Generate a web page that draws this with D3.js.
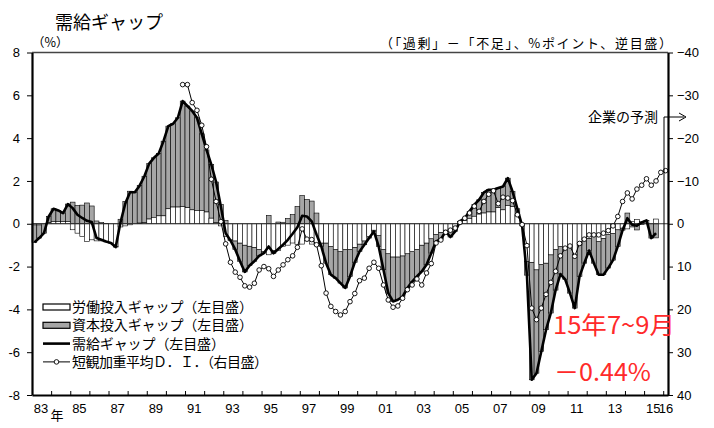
<!DOCTYPE html>
<html lang="ja">
  <head>
    <meta charset="utf-8">
    <title>需給ギャップ</title>
    <style>
      body { margin: 0; background: #fff; }
      svg { display: block; }
      .num { font-family: "Liberation Sans", Arial, sans-serif; font-size: 13px; }
      .jp { font-family: "Noto Sans CJK JP", sans-serif; }
    </style>
  </head>
  <body>
    <div class="graph"></div>

    <script src="https://cdn.jsdelivr.net/npm/d3@7"></script>
    <script>
      // quarterly, 1983 Q1 .. 2015 Q3 (index 0 = 1983 Q1)
      var outputGap = [
        -0.87, -0.67, -0.44, 0.34, 0.70, 0.62, 0.50, 0.92, 0.73, 0.42,
        0.27, 0.14, 0.08, -0.67, -0.75, -0.83, -0.90, -1.09, 0.06, 0.94,
        1.47, 1.47, 1.78, 2.22, 2.81, 3.08, 3.28, 3.86, 4.56, 4.67,
        4.95, 5.73, 5.50, 5.27, 4.95, 4.20, 3.45, 2.76, 1.95, 0.80,
        -0.44, -0.78, -1.20, -1.75, -2.25, -1.95, -1.75, -1.50, -1.37, -1.06,
        -1.38, -1.18, -0.98, -0.75, -0.47, -0.16, 0.37, 0.34, 0.11, -0.50,
        -1.06, -1.84, -2.38, -2.54, -2.77, -3.00, -2.46, -1.80, -1.30, -0.98,
        -0.67, -0.36, -1.06, -2.15, -3.24, -3.63, -3.55, -3.40, -3.00, -2.70,
        -2.46, -2.23, -1.92, -1.37, -0.83, -0.72, -0.36, -0.62, -0.36, 0.11,
        0.26, 0.58, 0.89, 1.12, 1.46, 1.59, 1.59, 1.67, 1.74, 2.13,
        1.50, 0.70, -0.10, -2.40, -7.29, -6.98, -5.97, -4.95, -4.17, -3.10,
        -2.35, -2.60, -3.24, -3.94, -2.46, -1.84, -1.25, -1.84, -2.38, -2.38,
        -2.07, -1.70, -1.06, -0.30, 0.26, -0.05, -0.09, 0.06, 0.16, -0.67,
        -0.44
      ];

      var laborGap = [
        -0.05, -0.05, 0.00, 0.05, 0.10, 0.10, 0.10, 0.10, -0.28, -0.44,
        -0.60, -0.83, -0.75, -0.80, -0.80, -0.85, -0.90, -1.05, -0.15, -0.10,
        -0.05, 0.00, 0.03, 0.05, 0.22, 0.30, 0.37, 0.37, 0.70, 0.78,
        0.78, 0.80, 0.75, 0.65, 0.62, 0.62, 0.55, 0.26, 0.05, -0.10,
        -0.60, -0.75, -0.80, -0.90, -1.00, -1.05, -1.10, -1.20, -1.30, -1.45,
        -1.25, -1.26, -1.05, -1.00, -0.90, -0.97, -0.95, -0.80, -0.95, -1.00,
        -0.90, -0.90, -1.06, -1.20, -1.30, -1.20, -1.20, -1.10, -0.95, -0.80,
        -0.60, -0.30, -0.55, -1.20, -1.40, -1.55, -1.55, -1.50, -1.40, -1.30,
        -1.20, -1.00, -0.90, -0.70, -0.50, -0.40, -0.30, -0.30, -0.15, 0.00,
        0.15, 0.25, 0.35, 0.45, 0.50, 0.55, 0.55, 0.75, 0.65, 0.85,
        0.80, 0.40, -0.10, -1.76, -1.80, -2.15, -1.90, -1.84, -1.45, -1.20,
        -1.06, -1.10, -1.06, -1.45, -1.00, -0.75, -0.68, -0.60, -0.83, -0.68,
        -0.50, -0.45, -0.28, -0.20, -0.24, 0.10, 0.20, 0.10, 0.15, 0.00,
        0.22
      ];

      var capitalGap = [
        -0.82, -0.62, -0.44, 0.29, 0.60, 0.52, 0.40, 0.82, 1.01, 0.86,
        0.87, 0.97, 0.83, 0.13, 0.05, 0.02, 0.00, -0.04, 0.21, 1.04,
        1.52, 1.47, 1.75, 2.17, 2.59, 2.78, 2.91, 3.49, 3.86, 3.89,
        4.17, 4.93, 4.75, 4.62, 4.33, 3.58, 2.90, 2.50, 1.90, 0.90,
        0.16, -0.03, -0.40, -0.85, -1.25, -0.90, -0.65, -0.30, -0.07, 0.39,
        -0.13, 0.08, 0.07, 0.25, 0.43, 0.81, 1.32, 1.14, 1.06, 0.50,
        -0.16, -0.94, -1.32, -1.34, -1.47, -1.80, -1.26, -0.70, -0.35, -0.18,
        -0.07, -0.06, -0.51, -0.95, -1.84, -2.08, -2.00, -1.90, -1.60, -1.40,
        -1.26, -1.23, -1.02, -0.67, -0.33, -0.32, -0.06, -0.32, -0.21, 0.11,
        0.11, 0.33, 0.54, 0.67, 0.96, 1.04, 1.04, 0.92, 1.09, 1.28,
        0.70, 0.30, 0.00, -0.64, -5.49, -4.83, -4.07, -3.11, -2.72, -1.90,
        -1.29, -1.50, -2.18, -2.49, -1.46, -1.09, -0.57, -1.24, -1.55, -1.70,
        -1.57, -1.25, -0.78, -0.10, 0.50, -0.15, -0.29, -0.04, 0.01, -0.67,
        -0.66
      ];

      // tankan weighted DI (excess - shortage), starts 1990 Q4, last point = firms' forecast
      var diStart = 31;
      var tankanDI = [
        -32.5, -32.5, -28.3, -26.5, -23.0, -18.0, -10.4, -5.2, -0.5, 4.7,
        9.0, 11.3, 12.5, 14.5, 14.8, 13.9, 10.8, 10.0, 10.5, 12.3,
        10.8, 9.6, 8.4, 7.5, 5.5, 1.2, 3.6, 3.7, 4.9, 9.8,
        16.2, 19.3, 20.5, 21.3, 20.5, 18.2, 16.3, 13.3, 12.7, 10.4,
        9.0, 10.4, 14.3, 17.8, 19.5, 19.2, 17.4, 15.4, 14.3, 12.9,
        14.3, 11.5, 9.3, 4.5, 3.8, 2.0, 1.5, 1.0, -0.3, -1.3,
        -2.5, -4.1, -2.9, -5.2, -6.9, -7.7, -4.7, -6.2, -6.0, -5.4,
        -2.1, 0.2, 5.1, 19.7, 22.4, 19.7, 16.5, 13.7, 11.1, 7.5,
        5.7, 5.2, 7.6, 4.6, 3.6, 2.6, 2.6, 2.6, 2.2, 1.6,
        0.5, -1.7, -5.2, -7.2, -5.8, -8.1, -9.0, -10.5, -9.0, -10.0,
        -12.0, -12.4
      ];

      var yearLabels = ['83', '85', '87', '89', '91', '93', '95', '97', '99', '01',
                        '03', '05', '07', '09', '11', '13', '15', '16'];
      var labelYears = [1983, 1985, 1987, 1989, 1991, 1993, 1995, 1997, 1999, 2001,
                        2003, 2005, 2007, 2009, 2011, 2013, 2015, 2016];
      var leftTicks = [-8, -6, -4, -2, 0, 2, 4, 6, 8];
      var rightTicks = [-40, -30, -20, -10, 0, 10, 20, 30, 40];

      var width = 714, height = 428;
      var plotLeft = 32, plotRight = 668, plotTop = 52.5, plotBottom = 395;
      var nQuarters = 133;

      var svg = d3.select('.graph').append('svg')
                  .attr('width', width)
                  .attr('height', height);

      var x = d3.scaleLinear().domain([0, nQuarters]).range([plotLeft, plotRight]);
      var yL = d3.scaleLinear().domain([-8, 8]).range([plotBottom, plotTop]);
      var yR = d3.scaleLinear().domain([40, -40]).range([plotBottom, plotTop]);
      var qw = x(1) - x(0);

      // stacked bars: labor next to zero, capital stacked outward if same sign
      var bars = outputGap.map(function(g, i) {
        var l = laborGap[i], c = capitalGap[i];
        var c0 = (l >= 0) === (c >= 0) ? l : 0;
        return { i: i, l0: 0, l1: l, c0: c0, c1: c0 + c };
      });

      var gBars = svg.append('g');
      gBars.selectAll('rect.cap')
           .data(bars)
           .enter()
           .append('rect')
           .attr('class', 'cap')
           .attr('x', function(d) { return x(d.i); })
           .attr('width', qw)
           .attr('y', function(d) { return yL(Math.max(d.c0, d.c1)); })
           .attr('height', function(d) { return Math.abs(yL(d.c0) - yL(d.c1)); })
           .attr('fill', '#a6a6a6')
           .attr('stroke', '#000')
           .attr('stroke-width', 0.6);
      gBars.selectAll('rect.lab')
           .data(bars)
           .enter()
           .append('rect')
           .attr('class', 'lab')
           .attr('x', function(d) { return x(d.i); })
           .attr('width', qw)
           .attr('y', function(d) { return yL(Math.max(d.l0, d.l1)); })
           .attr('height', function(d) { return Math.abs(yL(d.l0) - yL(d.l1)); })
           .attr('fill', '#fff')
           .attr('stroke', '#000')
           .attr('stroke-width', 0.6);

      // zero line
      svg.append('line')
         .attr('x1', plotLeft).attr('x2', plotRight)
         .attr('y1', yL(0)).attr('y2', yL(0))
         .attr('stroke', '#333').attr('stroke-width', 1);

      // output gap line
      var gapLine = d3.line()
                      .x(function(d, i) { return x(i + 0.5); })
                      .y(function(d) { return yL(d); });
      svg.append('path')
         .datum(outputGap)
         .attr('d', gapLine)
         .attr('fill', 'none')
         .attr('stroke', '#000')
         .attr('stroke-width', 2.6)
         .attr('stroke-linejoin', 'round');

      // tankan DI line with circles (right, reversed scale)
      var diLine = d3.line()
                     .x(function(d, i) { return x(diStart + i + 0.5); })
                     .y(function(d) { return yR(d); });
      svg.append('path')
         .datum(tankanDI)
         .attr('d', diLine)
         .attr('fill', 'none')
         .attr('stroke', '#000')
         .attr('stroke-width', 1);
      svg.append('g').selectAll('circle')
         .data(tankanDI)
         .enter()
         .append('circle')
         .attr('cx', function(d, i) { return x(diStart + i + 0.5); })
         .attr('cy', function(d) { return yR(d); })
         .attr('r', 2.3)
         .attr('fill', '#fff')
         .attr('stroke', '#000')
         .attr('stroke-width', 0.9);

      // frame top
      svg.append('line')
         .attr('x1', plotLeft).attr('x2', plotRight)
         .attr('y1', plotTop).attr('y2', plotTop)
         .attr('stroke', '#444').attr('stroke-width', 1.5);

      // left axis
      var axL = svg.append('g')
                   .attr('class', 'num')
                   .attr('transform', 'translate(' + plotLeft + ',0)')
                   .call(d3.axisLeft(yL).tickValues(leftTicks).tickSize(5).tickSizeOuter(0)
                           .tickFormat(function(d) { return String(d); }));
      axL.select('.domain').attr('stroke-width', 2.2);
      axL.selectAll('text').attr('font-size', 13).attr('fill', '#000').attr('x', -12);

      // right axis
      var axR = svg.append('g')
                   .attr('class', 'num')
                   .attr('transform', 'translate(' + plotRight + ',0)')
                   .call(d3.axisRight(yR).tickValues(rightTicks).tickSize(5).tickSizeOuter(0)
                           .tickFormat(function(d) { return d < 0 ? '\u2212' + (-d) : String(d); }));
      axR.select('.domain').attr('stroke-width', 2.2);
      axR.selectAll('text').attr('font-size', 13).attr('fill', '#000').attr('x', 9);

      // bottom axis: year ticks pointing inward
      var yearTicks = d3.range(4, nQuarters, 4);
      var axB = svg.append('g')
                   .attr('transform', 'translate(0,' + plotBottom + ')')
                   .call(d3.axisBottom(x).tickValues(yearTicks).tickSize(-4).tickSizeOuter(0)
                           .tickFormat(''));
      axB.select('.domain').attr('stroke-width', 2.2);

      var axLab = svg.append('g')
                     .attr('class', 'num')
                     .attr('transform', 'translate(0,' + plotBottom + ')')
                     .call(d3.axisBottom(x)
                             .tickValues(labelYears.map(function(yr) {
                               return yr === 2016 ? 132.5 : (yr - 1983) * 4 + 1.8;
                             }))
                             .tickFormat(function(d, i) { return yearLabels[i]; })
                             .tickSize(0).tickPadding(9));
      axLab.select('.domain').remove();
      axLab.selectAll('text').attr('font-size', 13).attr('fill', '#000');
      svg.append('text')
         .attr('class', 'jp')
         .attr('x', 57).attr('y', 420)
         .attr('text-anchor', 'middle')
         .attr('font-size', 13)
         .text('年');

      // titles
      svg.append('text')
         .attr('class', 'jp')
         .attr('x', 55).attr('y', 29)
         .attr('font-size', 18)
         .text('需給ギャップ');
      svg.append('text')
         .attr('class', 'jp')
         .attr('x', 32).attr('y', 47)
         .attr('font-size', 12.5)
         .text('（%）');
      svg.append('text')
         .attr('class', 'jp')
         .attr('x', 380).attr('y', 48)
         .attr('font-size', 13)
         .attr('textLength', 292)
         .attr('lengthAdjust', 'spacing')
         .text('（「過剰」－「不足」、%ポイント、逆目盛）');

      // forecast note
      svg.append('text')
         .attr('class', 'jp')
         .attr('x', 658).attr('y', 122)
         .attr('text-anchor', 'end')
         .attr('font-size', 14)
         .text('企業の予測');
      svg.append('path')
         .attr('d', 'M664,280 V117 H684')
         .attr('fill', 'none').attr('stroke', '#000').attr('stroke-width', 1);
      svg.append('path')
         .attr('d', 'M679,113 L686,117 L679,121')
         .attr('fill', 'none').attr('stroke', '#000').attr('stroke-width', 1);

      // red annotation
      svg.append('text')
         .attr('class', 'jp')
         .attr('x', 553).attr('y', 334)
         .attr('font-size', 24)
         .attr('textLength', 122)
         .attr('lengthAdjust', 'spacingAndGlyphs')
         .attr('fill', '#ff2a2a')
         .text('15年7~9月');
      svg.append('text')
         .attr('class', 'jp')
         .attr('x', 554).attr('y', 381)
         .attr('font-size', 24)
         .attr('textLength', 97)
         .attr('lengthAdjust', 'spacingAndGlyphs')
         .attr('fill', '#ff2a2a')
         .text('－0.44%');

      // legend
      var legend = [
        { label: '労働投入ギャップ（左目盛）', type: 'rect', fill: '#fff', len: 181 },
        { label: '資本投入ギャップ（左目盛）', type: 'rect', fill: '#a6a6a6', len: 181 },
        { label: '需給ギャップ（左目盛）', type: 'line', len: 153 },
        { label: '短観加重平均Ｄ．Ｉ．（右目盛）', type: 'dot', len: 196 }
      ];
      var lg = svg.append('g').selectAll('g')
                  .data(legend)
                  .enter()
                  .append('g')
                  .attr('transform', function(d, i) { return 'translate(43,' + (307 + i * 18.3) + ')'; });
      lg.filter(function(d) { return d.type === 'rect'; })
        .append('rect')
        .attr('x', 0).attr('y', -3).attr('width', 27).attr('height', 6)
        .attr('fill', function(d) { return d.fill; })
        .attr('stroke', '#000').attr('stroke-width', 1.2);
      lg.filter(function(d) { return d.type === 'line'; })
        .append('line')
        .attr('x1', 0).attr('x2', 27).attr('y1', 0).attr('y2', 0)
        .attr('stroke', '#000').attr('stroke-width', 2.6);
      var dots = lg.filter(function(d) { return d.type === 'dot'; });
      dots.append('line')
          .attr('x1', 0).attr('x2', 27).attr('y1', 0).attr('y2', 0)
          .attr('stroke', '#000').attr('stroke-width', 1);
      dots.append('circle')
          .attr('cx', 13.5).attr('cy', 0).attr('r', 2.3)
          .attr('fill', '#fff').attr('stroke', '#000').attr('stroke-width', 0.9);
      lg.append('text')
        .attr('class', 'jp')
        .attr('x', 29).attr('y', 5)
        .attr('font-size', 14)
        .attr('textLength', function(d) { return d.len; })
        .attr('lengthAdjust', 'spacing')
        .text(function(d) { return d.label; });
    </script>
  </body>
</html>
